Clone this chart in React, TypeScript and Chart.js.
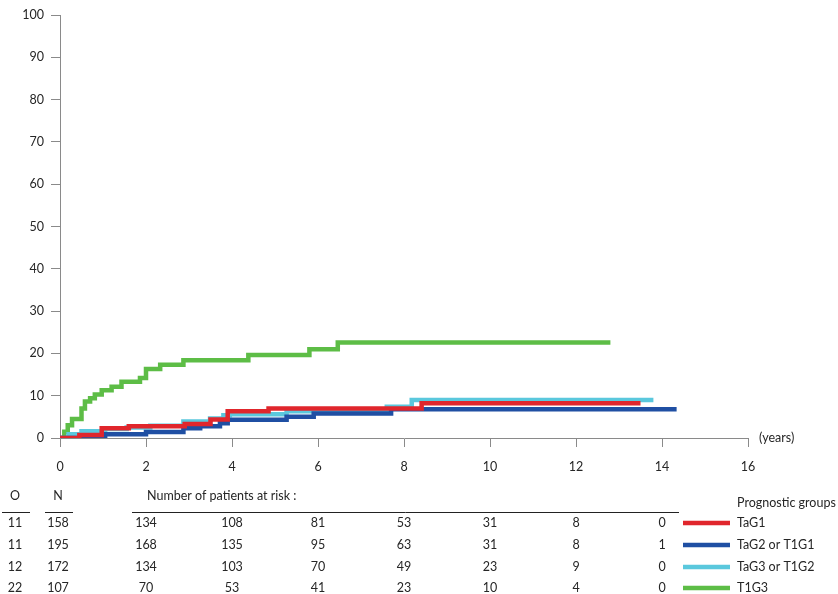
import React, { useEffect, useRef } from 'react';
import { Chart, registerables } from 'chart.js';

Chart.register(...registerables);

// ---- data ----
const groupNames = ['TaG1', 'TaG2 or T1G1', 'TaG3 or T1G2', 'T1G3'];
const groupColors = ['#e0262c', '#1f4fa3', '#5ac8dd', '#5dbd46'];
const observedEvents = [11, 11, 12, 22];
const groupSizes = [158, 195, 172, 107];
const xTickValues = [0, 2, 4, 6, 8, 10, 12, 14, 16];
const yTickValues = [0, 10, 20, 30, 40, 50, 60, 70, 80, 90, 100];
const riskTimes = [2, 4, 6, 8, 10, 12, 14];
const atRiskTaG1 = [134, 108, 81, 53, 31, 8, 0];
const atRiskTaG2 = [168, 135, 95, 63, 31, 8, 1];
const atRiskTaG3 = [134, 103, 70, 49, 23, 9, 0];
const atRiskT1G3 = [70, 53, 41, 23, 10, 4, 0];

const taG1Times = [0, 0.45, 0.97, 1.6, 2.9, 3.5, 3.9, 4.85, 8.41, 13.5];
const taG1Values = [0, 0.7, 2.3, 2.8, 3.3, 4.4, 6.3, 7.0, 8.2, 8.2];

const taG2Times = [0, 0.58, 1.05, 2.0, 2.87, 3.26, 3.72, 3.9, 5.27, 5.9, 7.7, 14.34];
const taG2Values = [0, 0.3, 0.9, 1.4, 2.3, 2.8, 3.5, 4.3, 5.0, 5.8, 6.8, 6.8];

const taG3Times = [0, 0.2, 0.5, 1.05, 1.55, 2.1, 2.87, 3.49, 3.8, 3.95, 5.27, 7.6, 8.18, 13.8];
const taG3Values = [0, 0.9, 1.6, 2.1, 2.5, 2.9, 3.9, 4.6, 5.4, 5.6, 6.3, 7.4, 9.0, 9.0];

const t1G3Times = [0, 0.1, 0.18, 0.28, 0.5, 0.58, 0.7, 0.81, 0.97, 1.2, 1.43, 1.86, 2.0, 2.33, 2.87, 4.38, 5.8, 6.46, 12.8];
const t1G3Values = [0, 1.5, 3.0, 4.5, 7.0, 8.6, 9.4, 10.3, 11.3, 12.1, 13.3, 14.2, 16.3, 17.3, 18.4, 19.6, 21.0, 22.6, 22.6];

const seriesTimes = [taG1Times, taG2Times, taG3Times, t1G3Times];
const seriesValues = [taG1Values, taG2Values, taG3Values, t1G3Values];
const atRiskRows = [atRiskTaG1, atRiskTaG2, atRiskTaG3, atRiskT1G3];

const FONT = 'Lato, "Open Sans", sans-serif';
const TEXT = '#262626';
const AXIS = '#8a8a8a';
const FS = 12.5;

const extrasPlugin = {
  id: 'extras',
  afterDraw(chart: any) {
    const ctx = chart.ctx;
    const xs = chart.scales.x;
    const ys = chart.scales.y;
    ctx.save();
    ctx.fillStyle = TEXT;
    ctx.font = `${FS}px ${FONT}`;
    ctx.textBaseline = 'middle';

    // (years)
    ctx.textAlign = 'left';
    ctx.fillText('(years)', xs.getPixelForValue(16) + 11, ys.getPixelForValue(0));

    // header
    const headerY = 496;
    const lineY = 512;
    const rowYs = [523, 545, 567, 588];
    ctx.textAlign = 'center';
    ctx.fillText('O', 15, headerY);
    ctx.fillText('N', 58, headerY);
    ctx.textAlign = 'left';
    ctx.fillText('Number of patients at risk :', 147, headerY);
    ctx.fillText('Prognostic groups', 737, headerY + 7);

    ctx.strokeStyle = '#222';
    ctx.lineWidth = 1;
    ctx.beginPath();
    ctx.moveTo(2, lineY + 0.5); ctx.lineTo(30, lineY + 0.5);
    ctx.moveTo(45, lineY + 0.5); ctx.lineTo(73, lineY + 0.5);
    ctx.moveTo(132, lineY + 0.5); ctx.lineTo(679, lineY + 0.5);
    ctx.stroke();

    for (let g = 0; g < groupNames.length; g++) {
      const y = rowYs[g];
      ctx.textAlign = 'center';
      ctx.fillStyle = TEXT;
      ctx.fillText(String(observedEvents[g]), 15, y);
      ctx.fillText(String(groupSizes[g]), 58, y);
      const row = atRiskRows[g];
      for (let i = 0; i < riskTimes.length; i++) {
        ctx.fillText(String(row[i]), xs.getPixelForValue(riskTimes[i]), y);
      }
      ctx.strokeStyle = groupColors[g];
      ctx.lineWidth = 4.5;
      ctx.beginPath();
      ctx.moveTo(683, y);
      ctx.lineTo(730, y);
      ctx.stroke();
      ctx.textAlign = 'left';
      ctx.fillText(groupNames[g], 737, y);
    }
    ctx.restore();
  },
};

export default function App() {
  const ref = useRef<HTMLCanvasElement | null>(null);
  useEffect(() => {
    if (!ref.current) return;
    const datasets = groupNames.map((name, g) => ({
      label: name,
      data: seriesTimes[g].map((t, i) => ({ x: t, y: seriesValues[g][i] })),
      borderColor: groupColors[g],
      backgroundColor: groupColors[g],
      borderWidth: 4.5,
      pointRadius: 0,
      stepped: true as any,
      fill: false,
      borderCapStyle: 'butt' as const,
      borderJoinStyle: 'miter' as const,
    }));
    const chart = new Chart(ref.current, {
      type: 'line',
      data: { datasets },
      options: {
        animation: false,
        responsive: false,
        maintainAspectRatio: false,
        layout: { padding: { left: 0, top: 15, right: 90, bottom: 0 } },
        plugins: { legend: { display: false }, tooltip: { enabled: false } },
        scales: {
          x: {
            type: 'linear',
            min: 0,
            max: 16,
            afterBuildTicks: (s: any) => { s.ticks = xTickValues.map((v) => ({ value: v })); },
            afterFit: (s: any) => { s.height = 156; },
            grid: { drawOnChartArea: false, drawTicks: true, tickLength: 9, color: AXIS },
            border: { display: true, color: AXIS, width: 1 },
            ticks: { color: TEXT, font: { family: FONT, size: FS }, padding: 12, maxRotation: 0 },
          },
          y: {
            type: 'linear',
            min: 0,
            max: 100,
            afterBuildTicks: (s: any) => { s.ticks = yTickValues.map((v) => ({ value: v })); },
            afterFit: (s: any) => { s.width = 60; },
            grid: { drawOnChartArea: false, drawTicks: true, tickLength: 9, color: AXIS },
            border: { display: true, color: AXIS, width: 1 },
            ticks: { color: TEXT, font: { family: FONT, size: FS }, padding: 7 },
          },
        },
      },
      plugins: [extrasPlugin],
    });
    return () => chart.destroy();
  }, []);
  return (
    <div style={{ position: 'fixed', left: 0, top: 0, width: 838, height: 594, background: '#fff' }}>
      <canvas ref={ref} width={838} height={594} style={{ width: 838, height: 594, display: 'block' }} />
    </div>
  );
}
